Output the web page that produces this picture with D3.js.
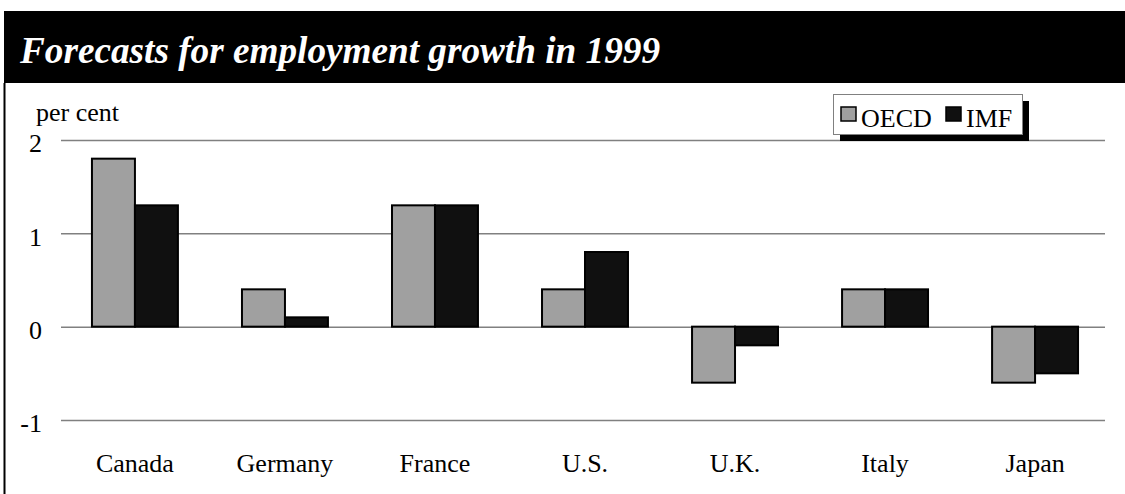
<!DOCTYPE html>
<html>
<head>
<meta charset="utf-8">
<script src="https://cdn.jsdelivr.net/npm/d3@7"></script>
<style>
  body { margin: 0; background: #fff; }
  svg { display: block; font-family: 'Liberation Serif', 'Times New Roman', serif; }
</style>
</head>
<body>
<svg class="bar_chart" width="1125" height="494"></svg>
<script>
const countries = ['Canada', 'Germany', 'France', 'U.S.', 'U.K.', 'Italy', 'Japan'];
const oecd = [1.8, 0.4, 1.3, 0.4, -0.6, 0.4, -0.6];
const imf = [1.3, 0.1, 1.3, 0.8, -0.2, 0.4, -0.5];
const seriesNames = ['OECD', 'IMF'];
const yTicks = [-1, 0, 1, 2];

const chart = d3.select('.bar_chart');
const width = +chart.attr('width');

const colors = { OECD: '#a0a0a0', IMF: '#101010' };

const data = countries.map((c, i) => ({ country: c, OECD: oecd[i], IMF: imf[i] }));

// frame: black title band + left rule
chart.append('rect')
    .attr('x', 4).attr('y', 11)
    .attr('width', width - 4).attr('height', 72)
    .attr('fill', '#000');

chart.append('line')
    .attr('x1', 4.5).attr('x2', 4.5)
    .attr('y1', 83).attr('y2', 494)
    .attr('stroke', '#000').attr('stroke-width', 2);

chart.append('text')
    .attr('x', 20).attr('y', 63)
    .attr('fill', '#fff')
    .style('font-size', '38px')
    .style('font-weight', 'bold')
    .style('font-style', 'italic')
    .attr('textLength', 640)
    .attr('lengthAdjust', 'spacingAndGlyphs')
    .text('Forecasts for employment growth in 1999');

const x = d3.scaleBand()
    .domain(countries)
    .range([60, 1110])
    .paddingInner(0.427)
    .paddingOuter(0.213);

const xInner = d3.scaleBand()
    .domain(seriesNames)
    .range([0, x.bandwidth()]);

const y = d3.scaleLinear()
    .domain([-1, 2])
    .range([420, 140]);

// gridlines + tick labels
const yAxis = d3.axisLeft(y)
    .tickValues(yTicks)
    .tickFormat(d => String(d))
    .tickSize(-(1105 - 61))
    .tickPadding(19);

const yAxisG = chart.append('g')
    .attr('transform', 'translate(61,0)')
    .call(yAxis);

yAxisG.select('.domain').remove();
yAxisG.selectAll('.tick line')
    .attr('stroke', '#808080')
    .attr('stroke-width', 1.5);
yAxisG.selectAll('.tick text')
    .attr('fill', '#000')
    .attr('dy', '0.45em')
    .style('font-family', "'Liberation Serif', serif")
    .style('font-size', '26px');

chart.append('text')
    .attr('x', 36).attr('y', 121)
    .style('font-size', '26px')
    .text('per cent');

// bars
const groups = chart.append('g')
    .selectAll('g')
    .data(data)
    .join('g')
    .attr('transform', d => `translate(${x(d.country)},0)`);

groups.selectAll('rect')
    .data(d => seriesNames.map(k => ({ key: k, value: d[k] })))
    .join('rect')
    .attr('x', d => xInner(d.key))
    .attr('width', xInner.bandwidth())
    .attr('y', d => y(Math.max(0, d.value)))
    .attr('height', d => Math.abs(y(d.value) - y(0)))
    .attr('fill', d => colors[d.key])
    .attr('stroke', '#000')
    .attr('stroke-width', 2);

// category labels
const xAxis = d3.axisBottom(x).tickSize(0).tickPadding(0);
const xAxisG = chart.append('g')
    .attr('transform', 'translate(0,454)')
    .call(xAxis);
xAxisG.select('.domain').remove();
xAxisG.selectAll('.tick text')
    .attr('fill', '#000')
    .style('font-family', "'Liberation Serif', serif")
    .style('font-size', '26px');

// legend
const legend = chart.append('g');
legend.append('rect')
    .attr('x', 840).attr('y', 101)
    .attr('width', 189).attr('height', 40)
    .attr('fill', '#000');
legend.append('rect')
    .attr('x', 833.5).attr('y', 94.5)
    .attr('width', 189).attr('height', 40)
    .attr('fill', '#fff')
    .attr('stroke', '#808080')
    .attr('stroke-width', 1);

const legendX = { OECD: 841, IMF: 946 };
const legendItems = legend.selectAll('g.item')
    .data(seriesNames)
    .join('g')
    .attr('class', 'item')
    .attr('transform', d => `translate(${legendX[d]},107)`);

legendItems.append('rect')
    .attr('width', 15).attr('height', 14)
    .attr('fill', d => colors[d])
    .attr('stroke', '#000')
    .attr('stroke-width', 1.5);

legendItems.append('text')
    .attr('x', 20).attr('y', 20)
    .style('font-size', '26px')
    .text(d => d);
</script>
</body>
</html>
